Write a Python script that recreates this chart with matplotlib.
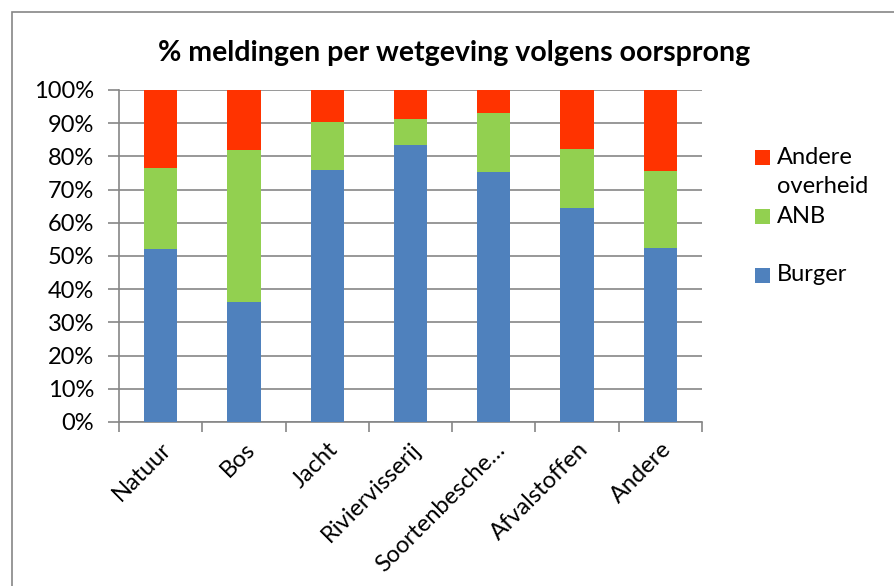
import numpy as np
import matplotlib.pyplot as plt
import matplotlib.transforms as mtransforms
from matplotlib.patches import Rectangle

categories = ["Natuur", "Bos", "Jacht", "Riviervisserij", "Soortenbesche…", "Afvalstoffen", "Andere"]
burger = [52.0, 36.1, 75.8, 83.4, 75.4, 64.6, 52.3]
anb = [24.6, 45.8, 14.7, 7.9, 17.7, 17.7, 23.4]
andere = [100 - b - a for b, a in zip(burger, anb)]

series_names = ["Andere\noverheid", "ANB", "Burger"]
series_colors = ["#FF3300", "#92D050", "#4F81BD"]

plt.rcParams['font.family'] = ['Lato', 'DejaVu Sans']

W, H = 895, 586
fig = plt.figure(figsize=(W / 100, H / 100), dpi=100)
ax = fig.add_axes([119 / W, 1 - 422 / H, 583 / W, 332 / H])

x = np.arange(len(categories))
w = 0.4
ax.bar(x, burger, w, color=series_colors[2], zorder=3)
ax.bar(x, anb, w, bottom=burger, color=series_colors[1], zorder=3)
ax.bar(x, andere, w, bottom=np.add(burger, anb), color=series_colors[0], zorder=3)

ax.set_xlim(-0.5, len(categories) - 0.5)
ax.set_ylim(0, 100)
ax.set_yticks(np.arange(0, 101, 10))
ax.set_yticklabels([f"{v}%" for v in range(0, 101, 10)], fontsize=17)
ax.yaxis.grid(True, color="#868686", linewidth=1.2, zorder=0)
ax.set_axisbelow(True)

ax.set_xticks(np.arange(-0.5, len(categories), 1.0), minor=False)
ax.set_xticklabels([])
ax.set_xticks(x, minor=True)
ax.set_xticklabels(categories, minor=True, rotation=45, ha="right", va="top",
                   rotation_mode="anchor", fontsize=17)
shift = mtransforms.ScaledTranslation(-16 / 100, 9 / 100, fig.dpi_scale_trans)
for lbl in ax.get_xticklabels(minor=True):
    lbl.set_transform(lbl.get_transform() + shift)
ax.tick_params(axis="x", which="major", length=7, color="#868686", width=1.2)
ax.tick_params(axis="x", which="minor", length=0, pad=12)
ax.tick_params(axis="y", length=8, color="#868686", width=1.2, pad=10)

for s in ["top", "right"]:
    ax.spines[s].set_visible(False)
for s in ["left", "bottom"]:
    ax.spines[s].set_color("#868686")
    ax.spines[s].set_linewidth(1.2)

fig.text(454 / W, 1 - 53 / H, "% meldingen per wetgeving volgens oorsprong",
         ha="center", va="center", fontsize=20.5, fontweight="bold")

# legend, drawn by hand so the red key lines up with the first line of its label
key_y = [158, 216.5, 275]
for name, col, ky in zip(series_names, series_colors, key_y):
    fig.patches.append(Rectangle((755 / W, 1 - (ky + 7.5) / H), 15 / W, 15 / H,
                                 transform=fig.transFigure, facecolor=col,
                                 edgecolor="none"))
    fig.text(777 / W, 1 - (ky - 11) / H, name, ha="left", va="top",
             fontsize=17, linespacing=1.45)

fig.patches.append(Rectangle((12 / W, -0.01), 1.0, 1 - 12 / H + 0.01,
                             transform=fig.transFigure, fill=False,
                             edgecolor="#868686", linewidth=1.2))

fig.savefig("out.png", dpi=100)
